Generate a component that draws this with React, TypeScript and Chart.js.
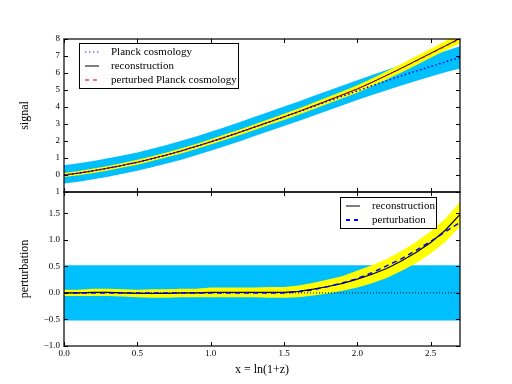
import React, { useEffect, useRef } from 'react';
import { Chart, registerables } from 'chart.js';

Chart.register(...registerables);

const FONT = '"Liberation Serif", "Times New Roman", serif';

// ---------- data ----------
const xValues = [0, 0.1, 0.2, 0.3, 0.4, 0.5, 0.6, 0.7, 0.8, 0.9, 1.0, 1.1, 1.2, 1.3, 1.4, 1.5, 1.6, 1.7, 1.8, 1.9, 2.0, 2.1, 2.2, 2.3, 2.4, 2.5, 2.6, 2.7];

// top panel: signal
const planckSignal = [0.00, 0.11, 0.25, 0.40, 0.57, 0.75, 0.96, 1.18, 1.42, 1.68, 1.95, 2.23, 2.52, 2.82, 3.12, 3.42, 3.72, 4.03, 4.34, 4.64, 4.95, 5.25, 5.54, 5.83, 6.11, 6.38, 6.65, 6.92];
const reconSignal = [0.00, 0.11, 0.25, 0.40, 0.57, 0.75, 0.96, 1.18, 1.42, 1.68, 1.95, 2.23, 2.52, 2.82, 3.12, 3.42, 3.73, 4.06, 4.39, 4.72, 5.06, 5.45, 5.86, 6.28, 6.72, 7.16, 7.60, 8.04];
const perturbedSignal = [0.00, 0.11, 0.25, 0.40, 0.57, 0.75, 0.96, 1.18, 1.42, 1.68, 1.95, 2.23, 2.52, 2.82, 3.12, 3.42, 3.73, 4.05, 4.38, 4.72, 5.07, 5.45, 5.86, 6.27, 6.70, 7.13, 7.57, 8.00];
const reconSignalUpper = [0.12, 0.23, 0.38, 0.53, 0.70, 0.89, 1.10, 1.32, 1.57, 1.83, 2.10, 2.39, 2.68, 2.99, 3.29, 3.60, 3.91, 4.25, 4.59, 4.93, 5.28, 5.68, 6.10, 6.53, 6.98, 7.43, 7.88, 8.34];
const reconSignalLower = [-0.12, -0.01, 0.12, 0.27, 0.44, 0.61, 0.82, 1.04, 1.27, 1.53, 1.80, 2.07, 2.36, 2.65, 2.95, 3.24, 3.55, 3.87, 4.19, 4.51, 4.84, 5.22, 5.62, 6.03, 6.46, 6.89, 7.32, 7.74];
const planckBandUpper = [0.58, 0.69, 0.83, 0.98, 1.15, 1.33, 1.54, 1.77, 2.01, 2.27, 2.54, 2.82, 3.12, 3.42, 3.72, 4.03, 4.33, 4.64, 4.96, 5.26, 5.58, 5.88, 6.18, 6.47, 6.75, 7.03, 7.30, 7.57];
const planckBandLower = [-0.50, -0.39, -0.25, -0.10, 0.07, 0.25, 0.46, 0.67, 0.90, 1.16, 1.43, 1.71, 1.99, 2.29, 2.59, 2.88, 3.18, 3.49, 3.80, 4.10, 4.41, 4.70, 4.98, 5.26, 5.53, 5.79, 6.04, 6.27];

// bottom panel: perturbation
const reconPert = [0.00, 0.00, 0.01, 0.01, 0.00, -0.01, -0.01, -0.01, 0.00, 0.00, 0.01, 0.01, 0.01, 0.01, 0.01, 0.01, 0.03, 0.07, 0.12, 0.18, 0.26, 0.35, 0.46, 0.60, 0.76, 0.95, 1.18, 1.48];
const reconPertUpper = [0.06, 0.06, 0.08, 0.08, 0.07, 0.06, 0.07, 0.07, 0.08, 0.08, 0.10, 0.10, 0.10, 0.10, 0.11, 0.11, 0.14, 0.19, 0.25, 0.32, 0.42, 0.52, 0.64, 0.79, 0.96, 1.16, 1.40, 1.71];
const reconPertLower = [-0.06, -0.06, -0.06, -0.06, -0.07, -0.08, -0.09, -0.09, -0.08, -0.08, -0.08, -0.08, -0.08, -0.08, -0.09, -0.09, -0.08, -0.05, -0.01, 0.04, 0.10, 0.18, 0.28, 0.41, 0.56, 0.74, 0.96, 1.25];
const truePert = [0, 0, 0, 0, 0, 0, 0, 0, 0, 0, 0, 0, 0, 0, 0, 0, 0.02, 0.06, 0.12, 0.19, 0.27, 0.38, 0.51, 0.64, 0.80, 0.97, 1.15, 1.33];
const planckPert = [0, 0, 0, 0, 0, 0, 0, 0, 0, 0, 0, 0, 0, 0, 0, 0, 0, 0, 0, 0, 0, 0, 0, 0, 0, 0, 0, 0];
const priorBandUpper = [0.52, 0.52, 0.52, 0.52, 0.52, 0.52, 0.52, 0.52, 0.52, 0.52, 0.52, 0.52, 0.52, 0.52, 0.52, 0.52, 0.52, 0.52, 0.52, 0.52, 0.52, 0.52, 0.52, 0.52, 0.52, 0.52, 0.52, 0.52];
const priorBandLower = [-0.52, -0.52, -0.52, -0.52, -0.52, -0.52, -0.52, -0.52, -0.52, -0.52, -0.52, -0.52, -0.52, -0.52, -0.52, -0.52, -0.52, -0.52, -0.52, -0.52, -0.52, -0.52, -0.52, -0.52, -0.52, -0.52, -0.52, -0.52];

// ticks
const xTicks = [0, 0.5, 1.0, 1.5, 2.0, 2.5];
const signalTicks = [-1, 0, 1, 2, 3, 4, 5, 6, 7, 8];
const pertTicks = [-1.0, -0.5, 0.0, 0.5, 1.0, 1.5];

const topLegend = [
  { label: 'Planck cosmology', color: 'rgba(60,60,255,0.7)', width: 1.5, dash: [1.5, 2.5] },
  { label: 'reconstruction', color: '#7f7f7f', width: 2, dash: [] as number[] },
  { label: 'perturbed Planck cosmology', color: 'rgba(255,60,60,0.75)', width: 2, dash: [4, 4] },
];
const bottomLegend = [
  { label: 'reconstruction', color: '#7f7f7f', width: 2, dash: [] as number[] },
  { label: 'perturbation', color: '#0000ff', width: 2, dash: [4, 4] },
];

// ---------- helpers ----------
const pts = (ys: number[]) => xValues.map((x, i) => ({ x, y: ys[i] }));

function line(label: string, ys: number[], color: string, width: number, dash: number[]) {
  return { label, data: pts(ys), borderColor: color, borderWidth: width, borderDash: dash, pointRadius: 0, fill: false, clip: 0 };
}
function band(label: string, ys: number[], color: string, fill: any) {
  return { label, data: pts(ys), borderColor: 'rgba(0,0,0,0)', borderWidth: 0, backgroundColor: color, pointRadius: 0, fill, clip: 0 };
}

type LegendItem = { label: string; color: string; width: number; dash: number[] };

function makeOverlay(xt: number[], yt: number[], items: LegendItem[], anchor: 'left' | 'right', dx: number, dy: number) {
  return {
    id: 'overlay',
    afterDraw(chart: any) {
      const { ctx, chartArea: a, scales } = chart;
      const sx = scales.x;
      const sy = scales.y;
      ctx.save();
      // inward ticks on all four sides
      ctx.strokeStyle = '#000';
      ctx.lineWidth = 1;
      ctx.setLineDash([]);
      ctx.beginPath();
      for (const v of xt) {
        const p = Math.round(sx.getPixelForValue(v)) + 0.5;
        ctx.moveTo(p, a.top); ctx.lineTo(p, a.top + 4);
        ctx.moveTo(p, a.bottom); ctx.lineTo(p, a.bottom - 4);
      }
      for (const v of yt) {
        const p = Math.round(sy.getPixelForValue(v)) + 0.5;
        ctx.moveTo(a.left, p); ctx.lineTo(a.left + 4, p);
        ctx.moveTo(a.right, p); ctx.lineTo(a.right - 4, p);
      }
      ctx.stroke();
      // frame
      ctx.lineWidth = 2;
      ctx.strokeStyle = 'rgba(0,0,0,0.6)';
      ctx.strokeRect(a.left, a.top, a.right - a.left, a.bottom - a.top);
      // legend
      ctx.font = `11px ${FONT}`;
      const tw = Math.max(...items.map((i) => ctx.measureText(i.label).width));
      const w = Math.round(32 + tw + 1);
      const h = items.length * 14 + 3;
      const left = Math.round(anchor === 'left' ? a.left + dx : a.right - dx - w);
      const top = Math.round(a.top + dy);
      ctx.fillStyle = '#fff';
      ctx.fillRect(left, top, w, h);
      ctx.lineWidth = 1;
      ctx.strokeStyle = '#000';
      ctx.strokeRect(left + 0.5, top + 0.5, w, h);
      items.forEach((it, i) => {
        const y = top + 8.7 + i * 14;
        ctx.beginPath();
        ctx.setLineDash(it.dash);
        ctx.strokeStyle = it.color;
        ctx.lineWidth = it.width;
        ctx.moveTo(left + 6, Math.round(y));
        ctx.lineTo(left + 20, Math.round(y));
        ctx.stroke();
        ctx.setLineDash([]);
        ctx.fillStyle = '#000';
        ctx.textBaseline = 'middle';
        ctx.textAlign = 'left';
        ctx.fillText(it.label, left + 32, y);
      });
      ctx.restore();
    },
  };
}

const fmt1 = (v: number) => (v < 0 ? '\u2212' + Math.abs(v).toFixed(1) : v.toFixed(1));

function yAxis(min: number, max: number, ticks: number[], title: string, cb: (v: number) => string) {
  return {
    type: 'linear',
    position: 'left',
    min,
    max,
    afterBuildTicks: (s: any) => { s.ticks = ticks.map((v) => ({ value: v })); },
    afterFit: (s: any) => { s.width = 64; s.paddingTop = 0; s.paddingBottom = 0; },
    grid: { display: false, drawTicks: false },
    border: { display: false },
    ticks: { font: { family: FONT, size: 9 }, color: '#000', padding: 4, autoSkip: false, callback: (v: any) => cb(Number(v)) },
    title: { display: true, text: title, color: '#000', font: { family: FONT, size: 12 }, padding: { top: 18, bottom: 0 } },
  };
}

export default function App() {
  const topRef = useRef<HTMLCanvasElement>(null);
  const botRef = useRef<HTMLCanvasElement>(null);

  useEffect(() => {
    Chart.defaults.font.family = FONT;
    const top = new Chart(topRef.current as HTMLCanvasElement, {
      type: 'line',
      data: {
        datasets: [
          line('Planck cosmology', planckSignal, '#0000ff', 1.5, [1.5, 2.5]),
          line('perturbed Planck cosmology', perturbedSignal, '#ff0000', 1, [4, 3]),
          line('reconstruction', reconSignal, '#000000', 1, []),
          band('reconstruction band upper', reconSignalUpper, '#ffff00', '+1'),
          band('reconstruction band lower', reconSignalLower, '#ffff00', false),
          band('Planck band upper', planckBandUpper, '#00bfff', '+1'),
          band('Planck band lower', planckBandLower, '#00bfff', false),
        ] as any,
      },
      options: {
        animation: false,
        responsive: false,
        devicePixelRatio: 1,
        layout: { padding: { left: 0, top: 39, right: 52, bottom: 8 } },
        plugins: { legend: { display: false }, tooltip: { enabled: false } },
        elements: { line: { tension: 0 } },
        scales: {
          x: {
            type: 'linear', min: 0, max: 2.7, display: false,
            afterBuildTicks: (s: any) => { s.ticks = xTicks.map((v) => ({ value: v })); },
          },
          y: yAxis(-1, 8, signalTicks, 'signal', (v) => (v === -1 ? '1' : String(v))),
        } as any,
      },
      plugins: [makeOverlay(xTicks, signalTicks, topLegend, 'left', 15, 4)],
    } as any);

    const bot = new Chart(botRef.current as HTMLCanvasElement, {
      type: 'line',
      data: {
        datasets: [
          line('perturbation', truePert, '#0000ff', 1.5, [5, 4]),
          line('reconstruction', reconPert, '#000000', 1.2, []),
          line('Planck', planckPert, '#000000', 1, [1, 2]),
          band('reconstruction band upper', reconPertUpper, '#ffff00', '+1'),
          band('reconstruction band lower', reconPertLower, '#ffff00', false),
          band('prior band upper', priorBandUpper, '#00bfff', '+1'),
          band('prior band lower', priorBandLower, '#00bfff', false),
        ] as any,
      },
      options: {
        animation: false,
        responsive: false,
        devicePixelRatio: 1,
        layout: { padding: { left: 0, top: 8, right: 52, bottom: 0 } },
        plugins: { legend: { display: false }, tooltip: { enabled: false } },
        elements: { line: { tension: 0 } },
        scales: {
          x: {
            type: 'linear', min: 0, max: 2.7, position: 'bottom',
            afterBuildTicks: (s: any) => { s.ticks = xTicks.map((v) => ({ value: v })); },
            afterFit: (s: any) => { s.height = 38; s.paddingLeft = 0; s.paddingRight = 0; },
            grid: { display: false, drawTicks: false },
            border: { display: false },
            ticks: { font: { family: FONT, size: 9 }, color: '#000', padding: 2, autoSkip: false, maxRotation: 0, callback: (v: any) => fmt1(Number(v)) },
            title: { display: true, text: 'x = ln(1+z)', color: '#000', font: { family: FONT, size: 12 }, padding: { top: 0, bottom: 7 } },
          },
          y: yAxis(-1, 1.9, pertTicks, 'perturbation', fmt1),
        } as any,
      },
      plugins: [makeOverlay(xTicks, pertTicks, bottomLegend, 'right', 24, 5)],
    } as any);

    return () => { top.destroy(); bot.destroy(); };
  }, []);

  return (
    <div style={{ position: 'absolute', left: 0, top: 0, width: 512, height: 384, background: '#fff' }}>
      <canvas ref={topRef} width={512} height={200} style={{ position: 'absolute', left: 0, top: 0, width: 512, height: 200 }} />
      <canvas ref={botRef} width={512} height={200} style={{ position: 'absolute', left: 0, top: 184, width: 512, height: 200 }} />
    </div>
  );
}
